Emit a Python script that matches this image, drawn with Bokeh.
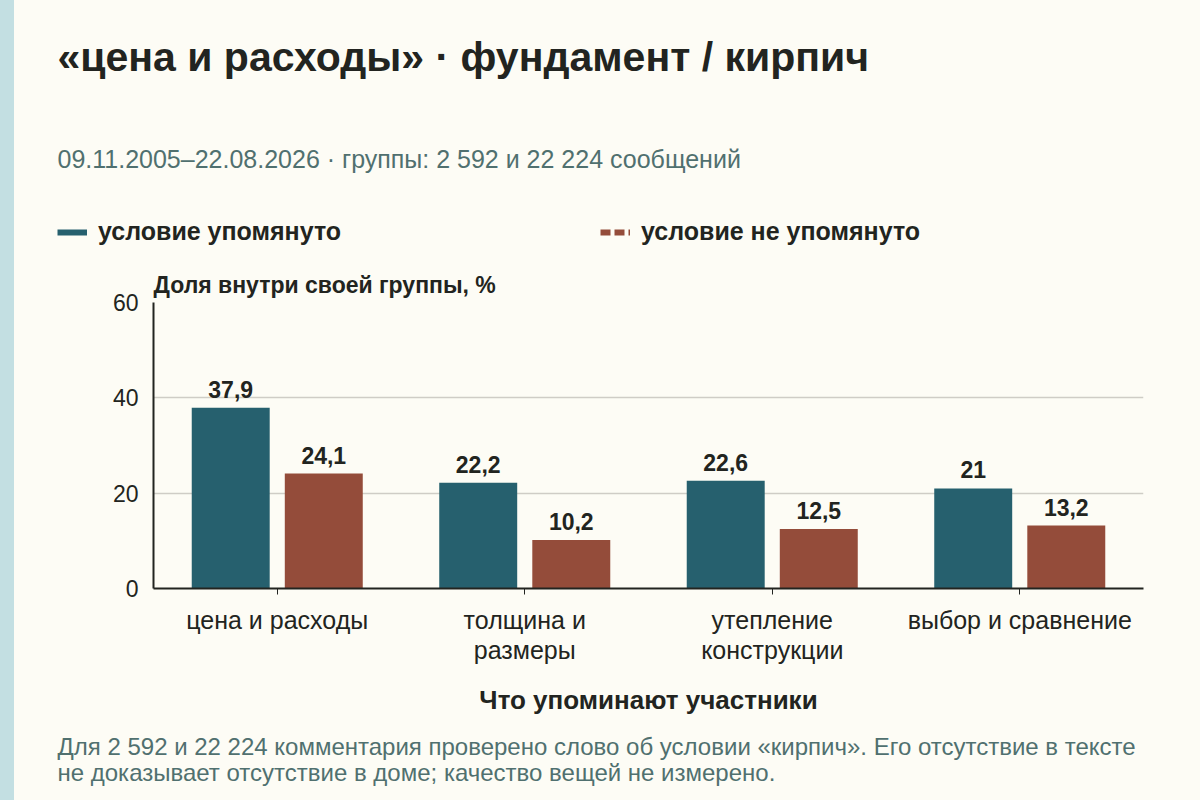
from bokeh.plotting import figure
from bokeh.models import (ColumnDataSource, Range1d, FixedTicker, Label, LabelSet, Title,
                          Legend, LegendItem, GlobalInlineStyleSheet)
from bokeh.core.properties import value
from bokeh.embed import file_html
from bokeh.resources import INLINE

# ---------------- data ----------------
categories = ["цена и расходы", "толщина и\nразмеры", "утепление\nконструкции", "выбор и сравнение"]
mentioned = [37.9, 22.2, 22.6, 21.0]
not_mentioned = [24.1, 10.2, 12.5, 13.2]
series_names = ["условие упомянуто", "условие не упомянуто"]
y_ticks = [0, 20, 40, 60]

title_text = "«цена и расходы» · фундамент / кирпич"
subtitle_text = "09.11.2005–22.08.2026 · группы: 2 592 и 22 224 сообщений"
y_label_text = "Доля внутри своей группы, %"
x_label_text = "Что упоминают участники"
note_lines = ["Для 2 592 и 22 224 комментария проверено слово об условии «кирпич». Его отсутствие в тексте",
              "не доказывает отсутствие в доме; качество вещей не измерено."]

# ---------------- style ----------------
FONT = "Liberation Sans"
BG = "#fdfcf5"
STRIP = "#c3dfe2"
TEAL = "#26606e"
RED = "#944c3a"
DARK = "#222420"
MUTED = "#50706f"

W = 1200
HEAD_H = 262
FOOT_H = 72
MAIN_H = 800 - HEAD_H - FOOT_H
LEFT, RIGHT, TOP, BOTTOM = 153, 57, 40, 140


def blank(height):
    return figure(width=W, height=height, output_backend="svg", toolbar_location=None,
                  x_range=Range1d(0, W), y_range=Range1d(height, 0),
                  x_axis_type=None, y_axis_type=None, min_border=0,
                  background_fill_alpha=0, border_fill_alpha=0, outline_line_color=None)


def label(f, x, y, text, size, bold=False, color=DARK, align="left"):
    f.add_layout(Label(x=x, y=y, text=text, text_font=FONT, text_font_size=size,
                       text_font_style="bold" if bold else "normal", text_color=color,
                       text_align=align, text_baseline="alphabetic"))


# ---------------- header ----------------
head = blank(HEAD_H)
head.stylesheets = [GlobalInlineStyleSheet(
    css=f"html {{ background: linear-gradient(90deg, {STRIP} 0px, {STRIP} 14px, {BG} 14px); }} "
        f"body {{ background: transparent; }}")]
label(head, 57, 56, title_text, "41px", bold=True)
label(head, 57, 158, subtitle_text, "25px", color=MUTED)

r1 = head.line([-50, -40], [-50, -40], line_color=TEAL, line_width=6)
r2 = head.line([-50, -40], [-50, -40], line_color=RED, line_width=6, line_dash="10 4")
leg = Legend(items=[LegendItem(label=series_names[0], renderers=[r1]),
                    LegendItem(label=series_names[1], renderers=[r2])],
             orientation="horizontal", location=(57, HEAD_H - 246),
             glyph_width=30, glyph_height=24, label_height=24, label_width=502,
             label_standoff=11, spacing=0, padding=0, margin=0,
             label_text_font=FONT, label_text_font_size="25px", label_text_font_style="bold",
             label_text_color=DARK, border_line_color=None, background_fill_alpha=0)
head.add_layout(leg)

# ---------------- main chart ----------------
def fmt(v):
    s = ("%.1f" % v).rstrip("0").rstrip(".")
    return s.replace(".", ",")

centers = [i + 0.5 for i in range(len(categories))]
off, bw = 0.188, 0.315

src1 = ColumnDataSource(dict(x=[c - off for c in centers], top=mentioned,
                             lab=[fmt(v) for v in mentioned]))
src2 = ColumnDataSource(dict(x=[c + off for c in centers], top=not_mentioned,
                             lab=[fmt(v) for v in not_mentioned]))

p = figure(width=W, height=MAIN_H, output_backend="svg", toolbar_location=None,
           x_range=Range1d(0, len(categories)), y_range=Range1d(0, 60),
           min_border_left=LEFT, min_border_right=RIGHT,
           min_border_top=TOP, min_border_bottom=BOTTOM,
           background_fill_alpha=0, border_fill_alpha=0, outline_line_color=None)

p.add_layout(Title(text=y_label_text, align="left", text_font=FONT, text_font_size="23px",
                   text_font_style="bold", text_color=DARK, standoff=10), "above")

p.vbar(x="x", top="top", width=bw, source=src1, fill_color=TEAL, line_color=None)
p.vbar(x="x", top="top", width=bw, source=src2, fill_color=RED, line_color=None)

for src in (src1, src2):
    p.add_layout(LabelSet(x="x", y="top", text="lab", source=src, text_align="center",
                          text_baseline="alphabetic", y_offset=10,
                          text_font=value(FONT), text_font_size="23px",
                          text_font_style="bold", text_color=DARK))

p.xaxis.ticker = FixedTicker(ticks=centers)
p.xaxis.major_label_overrides = {c: cat for c, cat in zip(centers, categories)}
p.xaxis.major_label_text_font = FONT
p.xaxis.major_label_text_font_size = "25px"
p.xaxis.major_label_text_line_height = 1.1
p.xaxis.major_label_text_color = DARK
p.xaxis.major_label_standoff = 11
p.xaxis.major_tick_in = 0
p.xaxis.major_tick_out = 6
p.xaxis.major_tick_line_color = DARK
p.xaxis.minor_tick_line_color = None
p.xaxis.axis_line_color = DARK
p.xaxis.axis_line_width = 2
p.xaxis.axis_label = x_label_text
p.xaxis.axis_label_text_font = FONT
p.xaxis.axis_label_text_font_size = "26px"
p.xaxis.axis_label_text_font_style = "bold"
p.xaxis.axis_label_text_color = DARK
p.xaxis.axis_label_standoff = 18

p.yaxis.ticker = FixedTicker(ticks=y_ticks)
p.yaxis.major_label_text_font = FONT
p.yaxis.major_label_text_font_size = "23px"
p.yaxis.major_label_text_color = DARK
p.yaxis.major_label_standoff = 9
p.yaxis.major_tick_line_color = None
p.yaxis.minor_tick_line_color = None
p.yaxis.axis_line_color = DARK
p.yaxis.axis_line_width = 2

p.xgrid.grid_line_color = None
p.ygrid.ticker = FixedTicker(ticks=y_ticks)
p.ygrid.grid_line_color = "#cfcdc6"
p.ygrid.grid_line_width = 1.5

# ---------------- footer ----------------
foot = blank(FOOT_H)
label(foot, 57, 18, note_lines[0], "24px", color=MUTED)
label(foot, 57, 44, note_lines[1], "24px", color=MUTED)

open("out.html", "w").write(file_html([head, p, foot], INLINE))
